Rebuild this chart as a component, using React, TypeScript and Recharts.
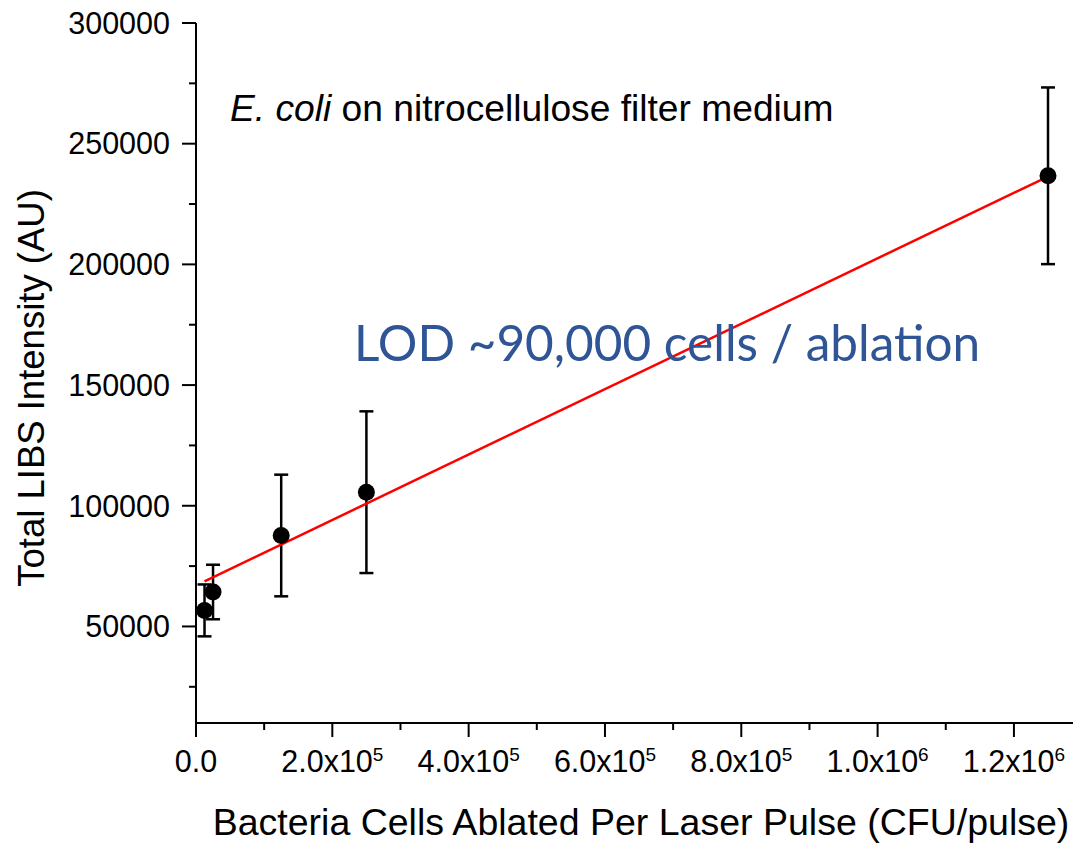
import React from 'react';
import { ComposedChart, Scatter, XAxis, YAxis, ErrorBar } from 'recharts';

// ---- data ----
const xValues = [12500, 25000, 125000, 250000, 1250000];
const yValues = [56650, 64270, 87680, 105620, 236700];
const yErrors = [10750, 11300, 25200, 33500, 36600];

const fitX = [12500, 1250000];
const fitY = [68700, 236400];

const xTicks = [0, 100000, 200000, 300000, 400000, 500000, 600000, 700000, 800000, 900000, 1000000, 1100000, 1200000, 1300000];
const xMajorValues = [0, 200000, 400000, 600000, 800000, 1000000, 1200000];
const xMajorMantissa = ['0.0', '2.0x10', '4.0x10', '6.0x10', '8.0x10', '1.0x10', '1.2x10'];
const xMajorExponent = ['', '5', '5', '5', '5', '6', '6'];

const yTicks = [25000, 50000, 75000, 100000, 125000, 150000, 175000, 200000, 225000, 250000, 275000, 300000];
const yMajorValues = [50000, 100000, 150000, 200000, 250000, 300000];

const X_DOMAIN: [number, number] = [0, 1305000];
const Y_DOMAIN: [number, number] = [10000, 300000];

const points = xValues.map((x, i) => ({ x, y: yValues[i], err: yErrors[i] }));
const fitPoints = fitX.map((x, i) => ({ x, y: fitY[i] }));

const FONT = '"Liberation Sans", Arial, sans-serif';
const TICK_FS = 30.5;

const LeftTick = (props: any) => {
  const { x, y, payload } = props;
  const v = payload.value;
  const major = yMajorValues.includes(v);
  return (
    <g>
      <line x1={x - (major ? 14 : 7)} y1={y} x2={x} y2={y} stroke="#000" strokeWidth={2} />
      {major && (
        <text x={x - 26} y={y + 10.8} textAnchor="end" fontSize={TICK_FS} fontFamily={FONT} fill="#000">
          {v}
        </text>
      )}
    </g>
  );
};

const RightTick = (props: any) => {
  const { x, y, payload } = props;
  const major = yMajorValues.includes(payload.value);
  return <line x1={x - (major ? 14 : 7)} y1={y} x2={x} y2={y} stroke="#000" strokeWidth={2} />;
};

const BottomTick = (props: any) => {
  const { x, y, payload } = props;
  const v = payload.value;
  const idx = xMajorValues.indexOf(v);
  const major = idx >= 0;
  return (
    <g>
      <line x1={x} y1={y} x2={x} y2={y + (major ? 14 : 7)} stroke="#000" strokeWidth={2} />
      {major && (
        <text x={x} y={y + 49} textAnchor="middle" fontSize={TICK_FS} fontFamily={FONT} fill="#000">
          <tspan>{xMajorMantissa[idx]}</tspan>
          {xMajorExponent[idx] && (
            <tspan fontSize={19} dy={-11}>
              {xMajorExponent[idx]}
            </tspan>
          )}
        </text>
      )}
    </g>
  );
};

const TopTick = (props: any) => {
  const { x, y, payload } = props;
  const major = xMajorValues.includes(payload.value);
  return <line x1={x} y1={y} x2={x} y2={y + (major ? 14 : 7)} stroke="#000" strokeWidth={2} />;
};

const Dot = (props: any) => <circle cx={props.cx} cy={props.cy} r={8.5} fill="#000" />;
const NoDot = () => <g />;

export default function App() {
  return (
    <div style={{ position: 'absolute', left: 0, top: 0, width: 1073, height: 844, overflow: 'hidden', background: '#fff' }}>
      <ComposedChart width={1100} height={844} margin={{ top: 23, right: 14.5, bottom: 0, left: 0 }}>
        <XAxis
          xAxisId="bottom"
          type="number"
          dataKey="x"
          domain={X_DOMAIN}
          ticks={xTicks}
          interval={0}
          height={121}
          axisLine={{ stroke: '#000', strokeWidth: 2 }}
          tickLine={false}
          tickSize={0}
          tickMargin={0}
          tick={<BottomTick />}
          allowDataOverflow
        />
        <XAxis
          xAxisId="top"
          orientation="top"
          type="number"
          dataKey="x"
          domain={X_DOMAIN}
          ticks={xTicks}
          interval={0}
          height={0}
          axisLine={{ stroke: '#000', strokeWidth: 2 }}
          tickLine={false}
          tickSize={0}
          tickMargin={0}
          tick={<TopTick />}
          allowDataOverflow
        />
        <YAxis
          yAxisId="left"
          type="number"
          domain={Y_DOMAIN}
          ticks={yTicks}
          interval={0}
          width={196}
          axisLine={{ stroke: '#000', strokeWidth: 2 }}
          tickLine={false}
          tickSize={0}
          tickMargin={0}
          tick={<LeftTick />}
          allowDataOverflow
        />
        <YAxis
          yAxisId="right"
          orientation="right"
          type="number"
          domain={Y_DOMAIN}
          ticks={yTicks}
          interval={0}
          width={0}
          axisLine={{ stroke: '#000', strokeWidth: 2 }}
          tickLine={false}
          tickSize={0}
          tickMargin={0}
          tick={<RightTick />}
          allowDataOverflow
        />
        <Scatter
          xAxisId="bottom"
          yAxisId="left"
          data={fitPoints}
          dataKey="y"
          line={{ stroke: '#ff0000', strokeWidth: 2.5 }}
          shape={<NoDot />}
          isAnimationActive={false}
        />
        <Scatter
          xAxisId="bottom"
          yAxisId="left"
          data={points}
          dataKey="y"
          shape={<Dot />}
          isAnimationActive={false}
        >
          <ErrorBar dataKey="err" direction="y" width={7} strokeWidth={2.5} stroke="#000" isAnimationActive={false} />
        </Scatter>
      </ComposedChart>
      <svg width={1100} height={844} style={{ position: 'absolute', left: 0, top: 0, pointerEvents: 'none' }}>
        <text x={44} y={388} transform="rotate(-90 44 388)" textAnchor="middle" fontSize={36.5} fontFamily={FONT} fill="#000">
          Total LIBS Intensity (AU)
        </text>
        <text x={641} y={835} textAnchor="middle" fontSize={37.5} fontFamily={FONT} fill="#000">
          Bacteria Cells Ablated Per Laser Pulse (CFU/pulse)
        </text>
        <text x={230} y={121} fontSize={37.2} fontFamily={FONT} fill="#000">
          <tspan fontStyle="italic">E. coli</tspan> on nitrocellulose filter medium
        </text>
        <text x={354} y={361} fontSize={49.5} fontFamily="Lato, sans-serif" fill="#2F5597">
          LOD ~90,000 cells / ablation
        </text>
      </svg>
    </div>
  );
}
